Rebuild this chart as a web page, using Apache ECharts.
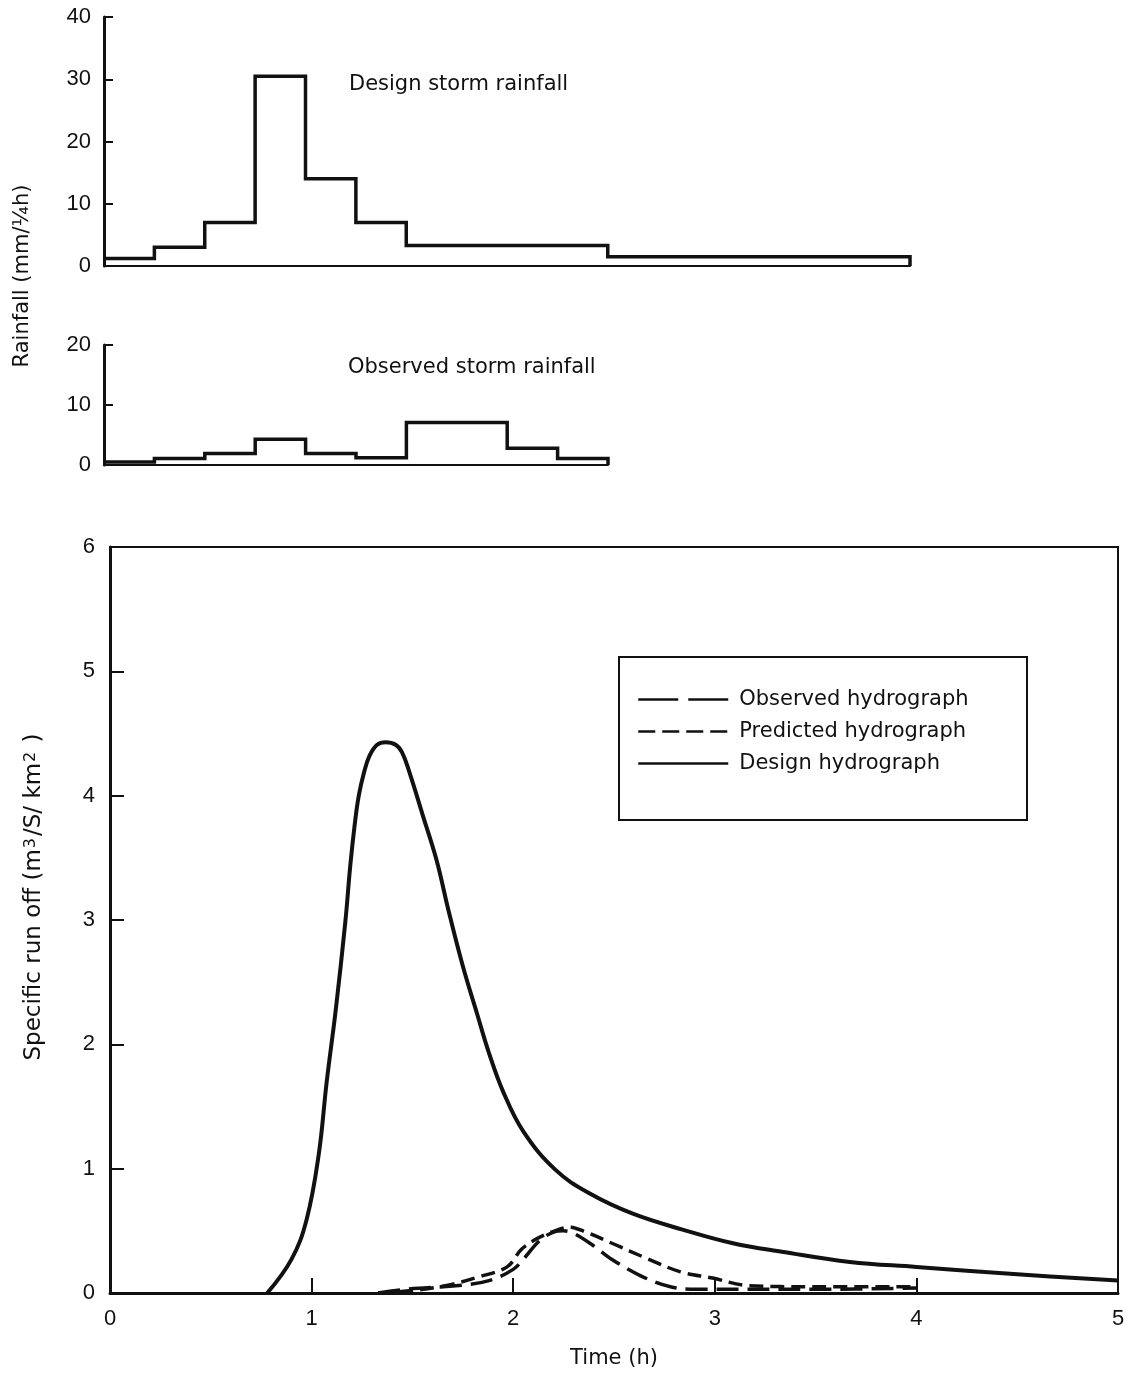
<!DOCTYPE html>
<html>
<head>
<meta charset="utf-8">
<script src="https://cdn.jsdelivr.net/npm/echarts@6/dist/echarts.min.js"></script>
<style>
  html, body { margin: 0; padding: 0; background: #fff; }
  #chart { width: 1133px; height: 1376px; }
</style>
</head>
<body>
<div id="chart"></div>
<script>
// Rainfall blocks: interval edges (h) and depth per quarter hour (mm)
const designEdges = [0, 0.25, 0.5, 0.75, 1.0, 1.25, 1.5, 2.5, 4.0];
const designRain = [1.2, 3, 7, 30.5, 14, 7, 3.3, 1.5];
const observedEdges = [0, 0.25, 0.5, 0.75, 1.0, 1.25, 1.5, 2.0, 2.25, 2.5];
const observedRain = [0.5, 1.1, 1.9, 4.3, 1.9, 1.2, 7.1, 2.8, 1.1];

// Hydrographs: time (h) and specific run off (m3/s/km2)
const designHydroT = [0.78, 0.90, 0.975, 1.035, 1.075, 1.12, 1.167, 1.192, 1.214, 1.234, 1.259, 1.287, 1.325, 1.367, 1.417, 1.448, 1.483, 1.55, 1.62, 1.68, 1.75, 1.82, 1.88, 1.95, 2.05, 2.21, 2.38, 2.59, 2.84, 3.09, 3.34, 3.67, 4.0, 4.5, 5.0];
const designHydroQ = [0, 0.27, 0.59, 1.11, 1.70, 2.28, 2.98, 3.44, 3.77, 4.00, 4.18, 4.32, 4.41, 4.43, 4.41, 4.35, 4.20, 3.85, 3.48, 3.07, 2.63, 2.25, 1.93, 1.62, 1.30, 0.99, 0.80, 0.64, 0.51, 0.40, 0.33, 0.25, 0.21, 0.15, 0.10];
const observedHydroT = [1.33, 1.47, 1.73, 1.88, 2.0, 2.06, 2.13, 2.20, 2.25, 2.30, 2.39, 2.49, 2.63, 2.78, 2.91, 3.5, 4.0];
const observedHydroQ = [0, 0.03, 0.06, 0.10, 0.19, 0.29, 0.42, 0.49, 0.50, 0.48, 0.39, 0.27, 0.14, 0.05, 0.03, 0.03, 0.04];
const predictedHydroT = [1.33, 1.5, 1.67, 1.83, 1.97, 2.04, 2.11, 2.19, 2.28, 2.36, 2.49, 2.66, 2.83, 2.99, 3.16, 3.5, 3.99];
const predictedHydroQ = [0, 0.02, 0.06, 0.13, 0.21, 0.35, 0.43, 0.49, 0.53, 0.49, 0.40, 0.28, 0.17, 0.12, 0.06, 0.05, 0.05];

const rainTicks = { design: [0, 40, 10], observed: [0, 20, 10] };
const runoffTicks = [0, 6, 1];
const timeTicks = [0, 5, 1];

const FONT = "'DejaVu Sans', 'Liberation Sans', sans-serif";
const NUM_FONT = "'Liberation Sans', Arial, sans-serif";
const INK = '#111';

function stepPoints(edges, vals) {
  const pts = vals.map((v, i) => [edges[i], v]);
  const last = edges[edges.length - 1];
  pts.push([last, vals[vals.length - 1]]);
  pts.push([last, 0]);
  return pts;
}
function pairs(t, q) { return t.map((x, i) => [x, q[i]]); }

const chart = echarts.init(document.getElementById('chart'), null, { renderer: 'canvas' });

const tickLabel = { color: INK, fontFamily: NUM_FONT, fontSize: 22 };

function rainY(gridIndex, ticks) {
  return {
    gridIndex, type: 'value', min: ticks[0], max: ticks[1], interval: ticks[2],
    axisLine: { show: true, lineStyle: { color: INK, width: 3 } },
    axisTick: { show: true, inside: true, length: 9, lineStyle: { color: INK, width: 2 } },
    axisLabel: Object.assign({ margin: 13 }, tickLabel),
    splitLine: { show: false }
  };
}
function rainX(gridIndex, max) {
  return {
    gridIndex, type: 'value', min: 0, max,
    axisLine: { show: true, onZero: false, lineStyle: { color: INK, width: 2 } },
    axisTick: { show: false }, axisLabel: { show: false }, splitLine: { show: false }
  };
}

const option = {
  backgroundColor: '#fff',
  animation: false,
  textStyle: { fontFamily: FONT, color: INK },
  title: [
    { text: 'Design storm rainfall', left: 344, top: 69,
      textStyle: { fontFamily: FONT, fontSize: 21, fontWeight: 'normal', color: INK } },
    { text: 'Observed storm rainfall', left: 343, top: 352,
      textStyle: { fontFamily: FONT, fontSize: 21, fontWeight: 'normal', color: INK } }
  ],
  grid: [
    { left: 104, top: 17, width: 806, height: 249 },
    { left: 104, top: 345, width: 504, height: 120 },
    { left: 110, top: 547, width: 1008, height: 746, show: true,
      borderColor: INK, borderWidth: 2, backgroundColor: 'transparent' }
  ],
  xAxis: [
    rainX(0, designEdges[designEdges.length - 1]),
    rainX(1, observedEdges[observedEdges.length - 1]),
    {
      gridIndex: 2, type: 'value', min: timeTicks[0], max: timeTicks[1], interval: timeTicks[2],
      name: 'Time (h)', nameLocation: 'middle', nameGap: 55,
      nameTextStyle: { color: INK, fontFamily: FONT, fontSize: 21 },
      axisLine: { show: true, lineStyle: { color: INK, width: 3 } },
      axisTick: { show: true, inside: true, length: 15, lineStyle: { color: INK, width: 2 } },
      axisLabel: Object.assign({ margin: 15 }, tickLabel),
      splitLine: { show: false }
    }
  ],
  yAxis: [
    rainY(0, rainTicks.design),
    rainY(1, rainTicks.observed),
    {
      gridIndex: 2, type: 'value', min: runoffTicks[0], max: runoffTicks[1], interval: runoffTicks[2],
      name: 'Specific run off (m{sup|3}/S/ km{sup|2} )', nameLocation: 'middle', nameGap: 64,
      nameTextStyle: {
        color: INK, fontFamily: FONT, fontSize: 23,
        padding: [0, 0, 0, 46],
        rich: { sup: { fontFamily: FONT, fontSize: 16, color: INK, verticalAlign: 'top', padding: [0, 2, 0, 1] } }
      },
      axisLine: { show: true, lineStyle: { color: INK, width: 3 } },
      axisTick: { show: true, inside: true, length: 14, lineStyle: { color: INK, width: 2 } },
      axisLabel: Object.assign({ margin: 15 }, tickLabel),
      splitLine: { show: false }
    }
  ],
  legend: {
    left: 637, top: 689, orient: 'vertical', padding: 0,
    itemWidth: 90, itemHeight: 14, itemGap: 11,
    itemStyle: { opacity: 0 },
    lineStyle: { width: 2.5 },
    textStyle: { fontFamily: FONT, fontSize: 21, color: INK, padding: [0, 0, 0, 6] },
    data: [
      { name: 'Observed hydrograph', lineStyle: { type: [40, 10], width: 2.5 } },
      { name: 'Predicted hydrograph', lineStyle: { type: [17, 7], width: 2.5 } },
      { name: 'Design hydrograph', lineStyle: { width: 2.5 } }
    ]
  },
  graphic: [
    { type: 'rect', shape: { x: 619, y: 657, width: 408, height: 163 },
      style: { fill: 'none', stroke: INK, lineWidth: 2 }, z: 10 },
    { type: 'text', x: 23, y: 276, rotation: Math.PI / 2,
      style: { text: 'Rainfall (mm/¼h)', fill: INK, font: '21px ' + FONT,
               align: 'center', verticalAlign: 'middle' } }
  ],
  series: [
    { name: 'Design storm', type: 'line', xAxisIndex: 0, yAxisIndex: 0, step: 'end',
      symbol: 'none', data: stepPoints(designEdges, designRain),
      lineStyle: { color: INK, width: 3.5, join: 'miter' } },
    { name: 'Observed storm', type: 'line', xAxisIndex: 1, yAxisIndex: 1, step: 'end',
      symbol: 'none', data: stepPoints(observedEdges, observedRain),
      lineStyle: { color: INK, width: 3.5, join: 'miter' } },
    { name: 'Observed hydrograph', type: 'line', xAxisIndex: 2, yAxisIndex: 2,
      symbol: 'none', smooth: 0.35,
      data: pairs(observedHydroT, observedHydroQ),
      itemStyle: { color: INK },
      lineStyle: { color: INK, width: 3.5, type: [22, 9] } },
    { name: 'Predicted hydrograph', type: 'line', xAxisIndex: 2, yAxisIndex: 2,
      symbol: 'none', smooth: 0.35,
      data: pairs(predictedHydroT, predictedHydroQ),
      itemStyle: { color: INK },
      lineStyle: { color: INK, width: 3.5, type: [14, 7] } },
    { name: 'Design hydrograph', type: 'line', xAxisIndex: 2, yAxisIndex: 2,
      symbol: 'none', smooth: 0.4,
      data: pairs(designHydroT, designHydroQ),
      itemStyle: { color: INK },
      lineStyle: { color: INK, width: 4, join: 'round' } }
  ]
};

chart.setOption(option);
</script>
</body>
</html>
